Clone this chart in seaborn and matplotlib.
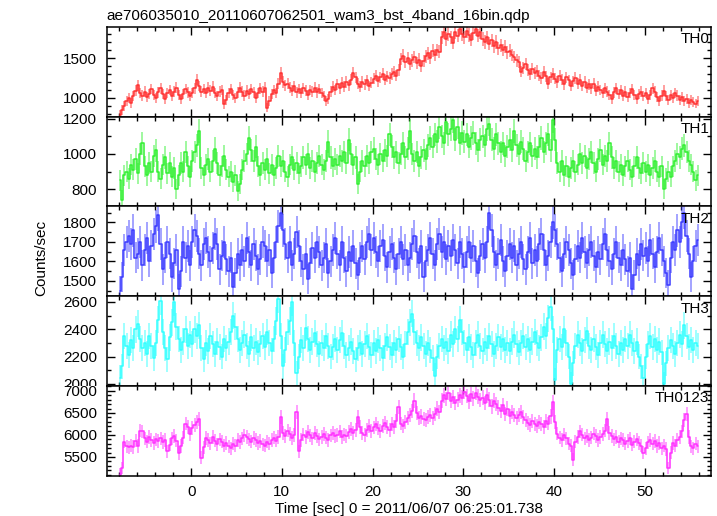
import numpy as np
import matplotlib
matplotlib.use("Agg")
import matplotlib.pyplot as plt
from matplotlib.ticker import MultipleLocator, FixedLocator
from matplotlib.transforms import Bbox, TransformedBbox
import seaborn as sns

# light curve: 0.25 s bins from -8 s to 56 s (256 bins)
T_START = -8.0
BIN = 0.25

th0 = [
    790, 850, 900, 960, 1000, 940, 1020, 1090,
    1160, 1060, 1030, 1080, 1010, 1050, 1110, 1040,
    1000, 1070, 1120, 1050, 990, 1060, 1100, 1020,
    1080, 1130, 1040, 990, 1050, 1110, 1070, 1020,
    1060, 1120, 1230, 1150, 1080, 1110, 1060, 1130,
    1090, 1140, 1060, 1020, 1080, 1100, 920, 980,
    1060, 1110, 1040, 1000, 1070, 1130, 1080, 1030,
    1090, 1050, 1110, 1070, 1000, 1060, 1120, 1080,
    1130, 880, 960, 1050, 1100, 1060, 1180, 1310,
    1200, 1160, 1180, 1130, 1090, 1150, 1070, 1110,
    1060, 1120, 1090, 1040, 1100, 1080, 1130, 1070,
    1110, 1060, 1020, 960, 990, 1080, 1140, 1100,
    1170, 1120, 1190, 1140, 1200, 1160, 1230, 1310,
    1260, 1180, 1140, 1200, 1170, 1220, 1150, 1190,
    1240, 1280, 1210, 1260, 1300, 1230, 1270, 1250,
    1300, 1330, 1280, 1350, 1490, 1530, 1450, 1500,
    1420, 1470, 1510, 1440, 1480, 1400, 1460, 1520,
    1560, 1500, 1590, 1540, 1600, 1580, 1760, 1820,
    1740, 1800, 1760, 1690, 1820, 1780, 1870, 1800,
    1760, 1840, 1790, 1730, 1810, 1860, 1780, 1820,
    1740, 1700, 1760, 1680, 1720, 1650, 1700, 1620,
    1660, 1600, 1640, 1570, 1590, 1540, 1510, 1470,
    1450, 1330, 1380, 1420, 1350, 1300, 1360, 1310,
    1340, 1280, 1250, 1330, 1270, 1180, 1260, 1300,
    1240, 1200, 1280, 1230, 1170, 1260, 1220, 1150,
    1210, 1250, 1180, 1230, 1150, 1200, 1130, 1170,
    1120, 1180, 1090, 1140, 1100, 1060, 1120, 1080,
    1040, 990, 1070, 1120, 1050, 1100, 1030, 1080,
    1010, 1060, 1110, 1040, 990, 1050, 1080, 1020,
    1060, 990, 1040, 1120, 1080, 1010, 960, 1030,
    1090, 1020, 970, 1040, 1000, 1060, 1030, 980,
    1010, 960, 990, 940, 970, 950, 930, 960,
]

th1 = [
    850, 740, 880, 900, 860, 940, 910, 970,
    890, 1000, 1060, 930, 880, 950, 900, 990,
    1020, 900, 860, 940, 980, 890, 950, 870,
    920, 800, 880, 950, 900, 1010, 930, 870,
    960, 1010, 1050, 1130, 920, 880, 940, 970,
    900, 960, 1030, 950, 880, 930, 990, 910,
    870, 900, 840, 880, 790, 830, 910, 960,
    1000, 1090, 1020, 960, 1040, 930, 880, 950,
    910, 970, 890, 940, 880, 920, 990, 930,
    960, 900, 870, 940, 980, 910, 950, 890,
    930, 980, 940, 1000, 920, 960, 900, 950,
    990, 940, 910, 960, 1070, 980, 930, 970,
    940, 990, 960, 1010, 950, 1080, 1000, 940,
    980, 830, 900, 960, 930, 990, 950, 1010,
    1030, 970, 940, 1000, 960, 1020, 990, 1110,
    1040, 980, 1010, 950, 1000, 1060, 980, 1030,
    1130, 1000, 960, 1010, 930, 980, 1020, 970,
    1050, 1090, 1040, 1110, 1070, 1150, 1100, 1060,
    1180, 1110, 1140, 1190, 1080, 1150, 1060, 1120,
    1070, 1110, 1040, 1090, 1120, 1060, 1020, 1080,
    1100, 1050, 1140, 1170, 1080, 1030, 1110, 1060,
    1010, 1060, 990, 1040, 1080, 1020, 1130, 1050,
    1000, 1070, 1030, 960, 1010, 1060, 990, 1030,
    980, 1040, 1090, 1010, 1060, 1110, 1020, 1190,
    1080, 950, 900, 960, 880, 930, 870, 920,
    960, 900, 940, 1000, 950, 990, 920, 970,
    1010, 950, 900, 970, 1020, 940, 990, 960,
    1060, 980, 920, 960, 900, 940, 880, 930,
    960, 910, 870, 930, 980, 920, 890, 950,
    900, 940, 880, 920, 960, 900, 870, 930,
    800, 860, 900, 870, 930, 960, 1000, 980,
    1030, 1050, 1010, 960, 940, 900, 850, 880,
]

th2 = [
    1450, 1520, 1660, 1700, 1730, 1690, 1760, 1620,
    1640, 1700, 1580, 1660, 1720, 1600, 1680, 1740,
    1780, 1840, 1690, 1560, 1620, 1700, 1640, 1520,
    1590, 1660, 1460, 1550, 1700, 1620, 1680, 1580,
    1700, 1760, 1730, 1640, 1580, 1690, 1720, 1650,
    1600, 1670, 1740, 1690, 1560, 1630, 1700, 1610,
    1550, 1620, 1470, 1540, 1640, 1580, 1660, 1600,
    1720, 1650, 1580, 1690, 1630, 1560, 1610, 1700,
    1680, 1600, 1660, 1540, 1620, 1700, 1780, 1850,
    1760, 1690, 1620, 1700, 1580, 1640, 1750, 1680,
    1600, 1560, 1640, 1510, 1590, 1670, 1620, 1700,
    1650, 1580, 1620, 1690, 1540, 1600, 1660, 1720,
    1640, 1580, 1700, 1620, 1550, 1650, 1600, 1680,
    1590, 1530, 1620, 1680, 1610, 1700, 1740, 1660,
    1720, 1650, 1600, 1680, 1710, 1630, 1570, 1650,
    1690, 1620, 1560, 1640, 1700, 1610, 1660, 1580,
    1620, 1690, 1730, 1650, 1590, 1680, 1520, 1600,
    1660, 1720, 1640, 1580, 1690, 1740, 1650, 1700,
    1610, 1680, 1630, 1710, 1660, 1590, 1700, 1640,
    1570, 1650, 1700, 1620, 1680, 1600, 1540, 1630,
    1690, 1620, 1700, 1850, 1760, 1650, 1580, 1640,
    1710, 1600, 1550, 1630, 1690, 1620, 1680, 1580,
    1640, 1700, 1610, 1560, 1650, 1720, 1590, 1660,
    1600, 1690, 1740, 1660, 1580, 1630, 1700, 1800,
    1760, 1690, 1620, 1550, 1640, 1700, 1660, 1590,
    1530, 1610, 1680, 1620, 1720, 1650, 1590, 1660,
    1700, 1630, 1570, 1650, 1610, 1690, 1740, 1660,
    1600, 1560, 1640, 1700, 1620, 1580, 1660, 1610,
    1550, 1620, 1460, 1530, 1640, 1580, 1690, 1630,
    1670, 1600, 1710, 1640, 1570, 1650, 1720, 1660,
    1600, 1540, 1480, 1620, 1700, 1660, 1760, 1700,
    1800, 1850, 1730, 1640, 1520, 1600, 1680, 1710,
]

th3 = [
    2045, 2130, 2350, 2280, 2210, 2320, 2260, 2400,
    2440, 2330, 2260, 2300, 2220, 2350, 2280, 2190,
    2300, 2470, 2610, 2380, 2260, 2180, 2340, 2450,
    2600, 2420, 2330, 2250, 2310, 2400, 2280, 2360,
    2290, 2400, 2350, 2430, 2260, 2180, 2300, 2240,
    2350, 2290, 2220, 2310, 2270, 2200, 2330, 2260,
    2310, 2380, 2500, 2420, 2330, 2250, 2300, 2360,
    2280, 2220, 2340, 2260, 2310, 2230, 2290, 2350,
    2270, 2380, 2300, 2240, 2330, 2460, 2620, 2350,
    2130, 2250, 2380, 2460, 2600, 2300, 2080, 2200,
    2320, 2260, 2410, 2330, 2250, 2310, 2370, 2290,
    2220, 2300, 2260, 2350, 2280, 2200, 2270, 2330,
    2250, 2320, 2370, 2280, 2210, 2260, 2310, 2240,
    2180, 2260, 2300, 2220, 2290, 2350, 2270, 2210,
    2300, 2240, 2320, 2260, 2190, 2280, 2340, 2270,
    2210, 2300, 2250, 2330, 2270, 2200, 2290, 2380,
    2450, 2515, 2380, 2300, 2260, 2340, 2280, 2220,
    2300, 2250, 2190, 2060, 2200, 2280, 2330, 2260,
    2310, 2240, 2360, 2290, 2400, 2330, 2470, 2380,
    2300, 2250, 2340, 2270, 2210, 2300, 2360, 2280,
    2240, 2310, 2260, 2350, 2290, 2220, 2280, 2340,
    2270, 2330, 2250, 2300, 2240, 2310, 2360, 2290,
    2230, 2300, 2350, 2270, 2330, 2250, 2310, 2380,
    2300, 2260, 2340, 2420, 2350, 2480, 2560, 2400,
    2030, 2250, 2330, 2270, 2400, 2300, 2200, 2000,
    2150, 2280, 2360, 2300, 2240, 2320, 2390, 2280,
    2250, 2330, 2270, 2210, 2300, 2360, 2290, 2240,
    2310, 2260, 2350, 2280, 2220, 2300, 2250, 2330,
    2280, 2360, 2300, 2240, 2310, 2200, 2130, 2045,
    2200, 2290, 2350, 2270, 2330, 2250, 2310, 2230,
    2000, 2150, 2260, 2320, 2280, 2220, 2300, 2360,
    2290, 2430, 2350, 2270, 2320, 2250, 2300, 2280,
]

th0123 = [
    5100, 5250, 5850, 5740, 5720, 5760, 5730, 5870,
    5750, 6100, 6080, 5920, 5850, 5960, 5880, 5820,
    5900, 5860, 5920, 5840, 5890, 5630, 5780, 5920,
    5980, 5870, 5590, 5750, 5940, 6260, 6180, 6020,
    6150, 6230, 6300, 6370, 5480, 5720, 5930, 5880,
    5810, 5950, 5870, 5790, 5900, 5850, 5760, 5820,
    5740, 5700, 5800, 5760, 5880, 5840, 5920, 5990,
    5960, 5900, 5850, 5930, 5880, 5820, 5860, 5790,
    5760, 5850, 5800, 5890, 5940, 5870, 5960, 6400,
    6050, 5980, 6100, 6020, 5930, 6000, 6520, 5630,
    5880, 6010, 5950, 6060, 5990, 5920, 6040, 5970,
    5900, 5960, 6020, 5940, 5880, 5990, 6050, 5980,
    6000, 6080, 5950, 6010, 5980, 6070, 6140, 6040,
    6120, 6400, 6180, 6050, 6000, 6120, 6200, 6090,
    6170, 6240, 6150, 6090, 6200, 6280, 6180, 6120,
    6250, 6180, 6320, 6630, 6260, 6200, 6300, 6380,
    6450, 6550, 6780, 6500, 6380, 6420, 6360, 6330,
    6400, 6450, 6380, 6480, 6600, 6520, 6780, 6900,
    6820, 6950, 6780, 6860, 6720, 6800, 6900, 6850,
    6980, 6880, 6760, 6920, 6830, 6960, 6870, 6790,
    6850, 6720, 6900, 6800, 6650, 6780, 6700, 6620,
    6550, 6680, 6480, 6600, 6420, 6520, 6460, 6380,
    6450, 6520, 6400, 6330, 6280, 6220, 6310, 6250,
    6200, 6290, 6240, 6180, 6320, 6260, 6420, 6740,
    6300, 6030, 5940, 5880, 6010, 5920, 5800, 5760,
    5440, 5850, 5960, 6080, 6010, 5920, 5980, 5880,
    5940, 6030, 5970, 5880, 5960, 6020, 6100, 6370,
    6050, 5980, 5900, 5960, 5850, 5920, 5880, 5800,
    5860, 5920, 5780, 5850, 5900, 5820, 5760, 5600,
    5700, 5830, 5890, 5800, 5860, 5750, 5820, 5700,
    5760, 5680, 5250, 5600, 5820, 5760, 5880, 5960,
    6080, 6330, 6480, 5950, 5740, 5700, 5800, 5740,
]

bands = ["TH0", "TH1", "TH2", "TH3", "TH0123"]
rates = [th0, th1, th2, th3, th0123]
colors = ["#ff3030", "#30f030", "#3a3aff", "#30ffff", "#ff30ff"]
ylims = [(766, 1891), (703, 1211), (1422, 1882), (1985, 2642), (5074, 7112)]
ymajor = [[1000, 1500], [800, 1000, 1200], [1500, 1600, 1700, 1800],
          [2000, 2200, 2400, 2600], [5500, 6000, 6500, 7000]]
yminor = [100, 100, 50, 100, 100]

sns.set_style("ticks")
plt.rcParams["font.family"] = ["Liberation Sans", "DejaVu Sans"]
plt.rcParams["font.size"] = 11
plt.rcParams["text.color"] = "black"
plt.rcParams["axes.labelcolor"] = "black"
plt.rcParams["axes.edgecolor"] = "black"
plt.rcParams["xtick.color"] = "black"
plt.rcParams["ytick.color"] = "black"

fig, axes = plt.subplots(5, 1, sharex=True, figsize=(7.17, 5.16), dpi=100)
fig.subplots_adjust(left=0.149, right=0.992, top=0.948, bottom=0.078, hspace=0)

for ax, name, y, col, lim, maj, mnr in zip(axes, bands, rates, colors, ylims, ymajor, yminor):
    y = np.array(y, dtype=float)
    t = T_START + BIN * (np.arange(len(y)) + 0.5)
    err = np.sqrt(y / BIN)
    ax.errorbar(t, y, yerr=err, fmt="none", ecolor=col, elinewidth=1.3, alpha=0.5)
    sns.lineplot(x=t, y=y, ax=ax, color=col, lw=1.1, drawstyle="steps-mid")
    ax.set_ylim(*lim)
    ax.yaxis.set_major_locator(FixedLocator(maj))
    ax.yaxis.set_minor_locator(MultipleLocator(mnr))
    ax.text(0.997, 0.94, name, transform=ax.transAxes, ha="right", va="top")
    ax.set_ylabel("")
    for s in ax.spines.values():
        s.set_linewidth(1.1)
    ax.tick_params(which="both", direction="in", top=True, right=True, width=1)
    ax.tick_params(which="major", length=6, pad=7)
    ax.tick_params(which="minor", length=3)

axes[-1].set_xlim(-9.3, 57.35)
axes[-1].xaxis.set_major_locator(MultipleLocator(10))
axes[-1].xaxis.set_minor_locator(MultipleLocator(2))
axes[-1].set_xlabel("Time [sec] 0 = 2011/06/07 06:25:01.738", labelpad=2)

fig.text(0.149, 1 - 16 / 516, "ae706035010_20110607062501_wam3_bst_4band_16bin.qdp",
         ha="left", va="center")
fig.text(0.058, 0.5, "Counts/sec", rotation=90, ha="center", va="center")

# the lowest TH3 label is half hidden by the panel below in the original
fig.canvas.draw()
clip = TransformedBbox(Bbox([[0, 1 - 386 / 516], [1, 1]]), fig.transFigure)
for lab in axes[3].get_yticklabels():
    if lab.get_text() == "2000":
        lab.set_clip_on(True)
        lab.set_clip_box(clip)

fig.savefig("out.png", dpi=100)
